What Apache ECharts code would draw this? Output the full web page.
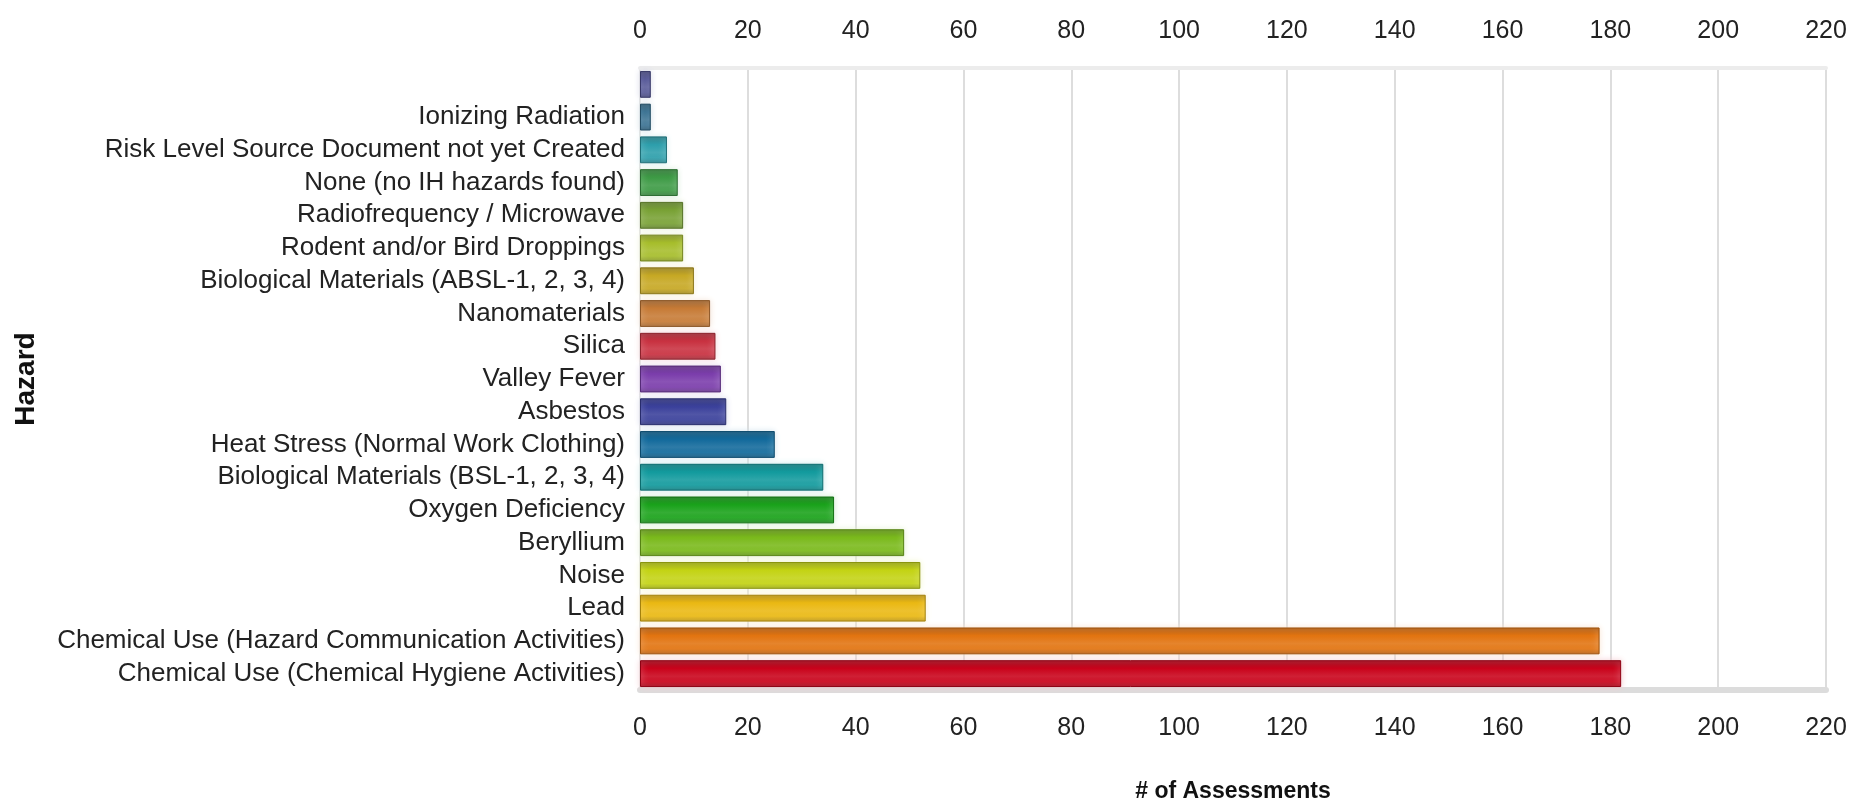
<!DOCTYPE html>
<html>
<head>
<meta charset="utf-8">
<title>Hazard assessments</title>
<script src="https://cdn.jsdelivr.net/npm/echarts@6/dist/echarts.min.js"></script>
<style>
	html, body { margin: 0; padding: 0; background: #fff; }
	#main { width: 1859px; height: 809px; }
</style>
</head>
<body>
<div id="main"></div>
<script>
// data, top bar first
var hazards = [
	'',
	'Ionizing Radiation',
	'Risk Level Source Document not yet Created',
	'None (no IH hazards found)',
	'Radiofrequency / Microwave',
	'Rodent and/or Bird Droppings',
	'Biological Materials (ABSL-1, 2, 3, 4)',
	'Nanomaterials',
	'Silica',
	'Valley Fever',
	'Asbestos',
	'Heat Stress (Normal Work Clothing)',
	'Biological Materials (BSL-1, 2, 3, 4)',
	'Oxygen Deficiency',
	'Beryllium',
	'Noise',
	'Lead',
	'Chemical Use (Hazard Communication Activities)',
	'Chemical Use (Chemical Hygiene Activities)'
];
var assessments = [2, 2, 5, 7, 8, 8, 10, 13, 14, 15, 16, 25, 34, 36, 49, 52, 53, 178, 182];
var barColors = [
	'#4d4f92', '#2f6a8c', '#2c9eab', '#3c9a44', '#78a134', '#a6bd2a',
	'#c6a823', '#c67a35', '#c8303f', '#7a3cab', '#393f9a', '#11699b',
	'#119a9d', '#19a21a', '#79b91a', '#c3d313', '#eab812', '#e2730f', '#c9021a'
];
var axisMin = 0;
var axisMax = 220;
var axisStep = 20;

var labelFont = '"Liberation Sans", Arial, sans-serif';

function shade(hex, f) {
	var n = parseInt(hex.slice(1), 16);
	var r = (n >> 16) & 255, g = (n >> 8) & 255, b = n & 255;
	function mix(c) {
		var v = f < 0 ? c * (1 + f) : c + (255 - c) * f;
		return Math.max(0, Math.min(255, Math.round(v)));
	}
	return 'rgb(' + mix(r) + ',' + mix(g) + ',' + mix(b) + ')';
}

var barData = [];
for (var i = 0; i < assessments.length; i++) {
	var c = barColors[i];
	barData.push({
		value: assessments[i],
		itemStyle: {
			color: new echarts.graphic.LinearGradient(0, 0, 0, 1, [
				{ offset: 0, color: shade(c, -0.25) },
				{ offset: 0.3, color: c },
				{ offset: 0.6, color: shade(c, 0.12) },
				{ offset: 0.8, color: shade(c, 0.05) },
				{ offset: 1, color: shade(c, -0.2) }
			]),
			borderColor: shade(c, -0.3),
			borderWidth: 1,
			shadowColor: shade(c, 0.8),
			shadowBlur: 6
		}
	});
}

var myChar = echarts.init(document.getElementById('main'));
var valueAxisLabel = {
	color: '#222',
	fontFamily: labelFont,
	fontSize: 25
};
var myOption = {
	backgroundColor: '#fff',
	animation: false,
	grid: {
		left: 640,
		right: 33,
		top: 68,
		bottom: 119,
		containLabel: false,
		outerBoundsMode: 'none'
	},
	xAxis: [
		{
			type: 'value',
			position: 'bottom',
			min: axisMin,
			max: axisMax,
			interval: axisStep,
			name: '# of Assessments',
			nameLocation: 'middle',
			nameGap: 90,
			nameTextStyle: {
				color: '#111',
				fontFamily: labelFont,
				fontWeight: 'bold',
				fontSize: 23
			},
			axisLine: { show: true, lineStyle: { color: '#dcdcdc', width: 6 } },
			axisTick: { show: false },
			axisLabel: Object.assign({ margin: 26 }, valueAxisLabel),
			splitLine: { show: true, lineStyle: { color: '#dddddd', width: 2 } }
		},
		{
			type: 'value',
			position: 'top',
			min: axisMin,
			max: axisMax,
			interval: axisStep,
			axisLine: { show: true, lineStyle: { color: '#ececec', width: 4 } },
			axisTick: { show: false },
			axisLabel: Object.assign({ margin: 24 }, valueAxisLabel),
			splitLine: { show: false }
		}
	],
	yAxis: {
		type: 'category',
		inverse: true,
		data: hazards,
		name: 'Hazard',
		nameLocation: 'middle',
		nameGap: 600,
		nameRotate: 90,
		nameTextStyle: {
			color: '#111',
			fontFamily: labelFont,
			fontWeight: 'bold',
			fontSize: 28
		},
		axisLine: { show: true, lineStyle: { color: '#e4e4e4', width: 2 } },
		axisTick: { show: false },
		axisLabel: {
			color: '#222',
			fontFamily: labelFont,
			fontSize: 26,
			margin: 15,
			interval: 0
		}
	},
	series: [
		{
			type: 'bar',
			xAxisIndex: 0,
			barCategoryGap: '18%',
			data: barData
		}
	]
};
myChar.setOption(myOption);
</script>
</body>
</html>
